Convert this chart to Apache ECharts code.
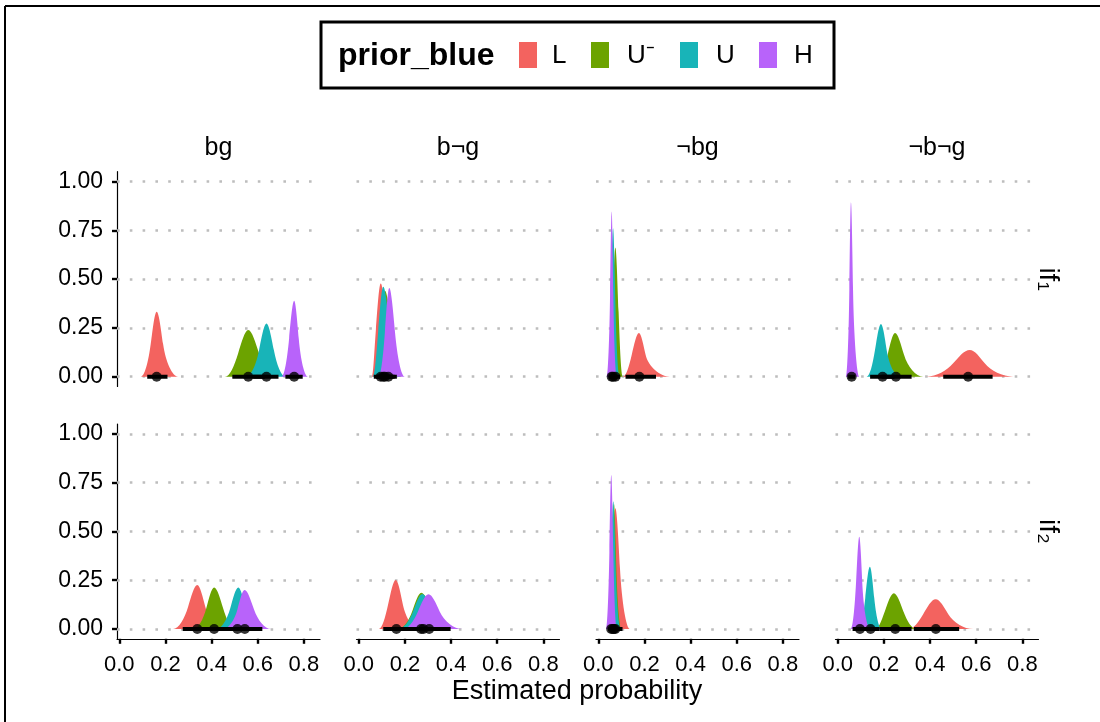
<!DOCTYPE html>
<html>
<head>
<meta charset="utf-8">
<script src="https://cdn.jsdelivr.net/npm/echarts@6.0.0/dist/echarts.min.js"></script>
<style>
html, body { margin: 0; padding: 0; background: #fff; }
#main { width: 1100px; height: 722px; }
</style>
</head>
<body>
<div id="main"></div>
<script>
var groups = ['L', 'U⁻', 'U', 'H'];
var colors = ['#F3635F', '#6CA300', '#18B4B8', '#B863FA'];
var colLabels = ['bg', 'b¬g', '¬bg', '¬b¬g'];
var rowLabels = ['if₁', 'if₂'];
var xTicks = [0, 0.2, 0.4, 0.6, 0.8];
var yTicks = [0, 0.25, 0.5, 0.75, 1];

// one row per panel: if1 (bg, b¬g, ¬bg, ¬b¬g), then if2; columns are L, U⁻, U, H
var peakX = [
	[0.162, 0.559, 0.638, 0.758],
	[0.095, 0.113, 0.106, 0.132],
	[0.176, 0.074, 0.064, 0.058],
	[0.572, 0.248, 0.187, 0.057],
	[0.338, 0.411, 0.516, 0.543],
	[0.160, 0.271, 0.275, 0.302],
	[0.074, 0.068, 0.065, 0.056],
	[0.424, 0.243, 0.139, 0.093]
];
var peakY = [
	[0.333, 0.239, 0.273, 0.389],
	[0.478, 0.440, 0.461, 0.454],
	[0.224, 0.662, 0.761, 0.846],
	[0.137, 0.224, 0.270, 0.893],
	[0.225, 0.213, 0.213, 0.200],
	[0.251, 0.186, 0.180, 0.178],
	[0.618, 0.640, 0.655, 0.789],
	[0.152, 0.183, 0.319, 0.473]
];
// x where the density is at half its peak, left and right
var halfLo = [
	[0.136, 0.515, 0.606, 0.736],
	[0.074, 0.092, 0.084, 0.113],
	[0.145, 0.061, 0.054, 0.051],
	[0.500, 0.216, 0.161, 0.050],
	[0.298, 0.377, 0.481, 0.512],
	[0.127, 0.232, 0.235, 0.256],
	[0.059, 0.057, 0.054, 0.048],
	[0.370, 0.204, 0.119, 0.079]
];
var halfHi = [
	[0.190, 0.606, 0.670, 0.778],
	[0.121, 0.145, 0.135, 0.157],
	[0.205, 0.088, 0.074, 0.065],
	[0.637, 0.287, 0.212, 0.066],
	[0.373, 0.450, 0.547, 0.584],
	[0.191, 0.317, 0.320, 0.351],
	[0.094, 0.078, 0.075, 0.065],
	[0.479, 0.284, 0.158, 0.106]
];
// visible ends of each density
var footLo = [
	[0.093, 0.458, 0.550, 0.703],
	[0.056, 0.065, 0.060, 0.085],
	[0.106, 0.045, 0.040, 0.036],
	[0.385, 0.170, 0.125, 0.035],
	[0.233, 0.320, 0.420, 0.450],
	[0.086, 0.170, 0.170, 0.190],
	[0.045, 0.040, 0.040, 0.033],
	[0.305, 0.161, 0.090, 0.056]
];
var footHi = [
	[0.255, 0.660, 0.720, 0.818],
	[0.170, 0.186, 0.180, 0.200],
	[0.310, 0.106, 0.092, 0.080],
	[0.760, 0.370, 0.270, 0.093],
	[0.440, 0.500, 0.600, 0.658],
	[0.260, 0.390, 0.400, 0.449],
	[0.137, 0.100, 0.097, 0.080],
	[0.587, 0.342, 0.190, 0.140]
];
var pointX = [
	[0.162, 0.559, 0.638, 0.758],
	[0.095, 0.113, 0.106, 0.128],
	[0.178, 0.074, 0.064, 0.058],
	[0.565, 0.252, 0.194, 0.060],
	[0.338, 0.411, 0.512, 0.544],
	[0.163, 0.270, 0.280, 0.305],
	[0.074, 0.068, 0.063, 0.056],
	[0.425, 0.249, 0.142, 0.096]
];
var intLo = [
	[0.121, 0.490, 0.580, 0.720],
	[0.065, 0.080, 0.075, 0.100],
	[0.118, 0.055, 0.050, 0.046],
	[0.457, 0.190, 0.140, 0.045],
	[0.275, 0.350, 0.455, 0.480],
	[0.106, 0.200, 0.205, 0.225],
	[0.055, 0.050, 0.048, 0.043],
	[0.330, 0.180, 0.105, 0.064]
];
var intHi = [
	[0.209, 0.630, 0.690, 0.795],
	[0.135, 0.155, 0.145, 0.165],
	[0.250, 0.095, 0.080, 0.072],
	[0.671, 0.320, 0.245, 0.075],
	[0.400, 0.475, 0.575, 0.620],
	[0.225, 0.350, 0.360, 0.398],
	[0.105, 0.088, 0.085, 0.070],
	[0.526, 0.320, 0.180, 0.125]
];

var FONT = '"Liberation Sans", Arial, sans-serif';
var chart = echarts.init(document.getElementById('main'));

var gridLeft = 117, gridStep = 239.5, gridW = 203, gridH = 214.8;
var rowTop = [171.7, 424];

// bell-shaped slab through foot, half-height and peak points
function renderDensity(params, api) {
	var g = api.value(0);
	var h = api.value(6);
	var fl = api.coord([api.value(1), 0]);
	var hl = api.coord([api.value(2), h / 2]);
	var pk = api.coord([api.value(3), h]);
	var hr = api.coord([api.value(4), h / 2]);
	var fr = api.coord([api.value(5), 0]);
	var dxL = pk[0] - hl[0], dyL = pk[1] - hl[1];
	var dxR = hr[0] - pk[0], dyR = hr[1] - pk[1];
	var d = [
		'M', fl[0], fl[1],
		'C', fl[0] + 0.375 * (hl[0] - fl[0]), fl[1], hl[0] - 0.4 * dxL, hl[1] - 0.554 * dyL, hl[0], hl[1],
		'C', hl[0] + dxL / 3, hl[1] + 0.462 * dyL, pk[0] - dxL / 3, pk[1], pk[0], pk[1],
		'C', pk[0] + dxR / 3, pk[1], hr[0] - dxR / 3, hr[1] - 0.462 * dyR, hr[0], hr[1],
		'C', hr[0] + 0.4 * dxR, hr[1] + 0.554 * dyR, fr[0] - 0.375 * (fr[0] - hr[0]), fr[1], fr[0], fr[1],
		'Z'
	].join(' ');
	return { type: 'path', shape: { pathData: d }, style: { fill: colors[g] } };
}

var grids = [], xAxes = [], yAxes = [], series = [];
for (var p = 0; p < 8; p++) {
	var row = Math.floor(p / 4), col = p % 4;
	grids.push({
		left: gridLeft + col * gridStep,
		top: rowTop[row],
		width: gridW,
		height: gridH,
		outerBoundsMode: 'none'
	});
	var bottomRow = row === 1;
	xAxes.push({
		type: 'value',
		gridIndex: p,
		min: -0.01,
		max: 0.87,
		axisLine: { show: bottomRow, onZero: false, lineStyle: { color: '#000', width: 1.2 } },
		axisTick: { show: bottomRow, customValues: xTicks, length: 5, lineStyle: { color: '#000', width: 2.4 } },
		axisLabel: {
			show: bottomRow,
			customValues: xTicks,
			margin: 15,
			color: '#000',
			fontSize: 22,
			fontFamily: FONT,
			formatter: function (v) { return v.toFixed(1); }
		},
		splitLine: { show: false }
	});
	var firstCol = col === 0;
	yAxes.push({
		type: 'value',
		gridIndex: p,
		min: -0.05,
		max: 1.05,
		axisLine: { show: firstCol, onZero: false, lineStyle: { color: '#000', width: 1.2 } },
		axisTick: { show: firstCol, customValues: yTicks, length: 5, lineStyle: { color: '#000', width: 2.4 } },
		axisLabel: {
			show: firstCol,
			customValues: yTicks,
			margin: 14,
			color: '#000',
			fontSize: 23,
			fontFamily: FONT,
			formatter: function (v) { return v.toFixed(2); }
		},
		splitLine: { show: false }
	});

	// dotted grid lines
	series.push({
		type: 'line',
		xAxisIndex: p,
		yAxisIndex: p,
		data: [],
		z: 1,
		markLine: {
			silent: true,
			z: 1,
			symbol: ['none', 'none'],
			label: { show: false },
			lineStyle: { color: '#bdbdbd', width: 2.6, type: [2.6, 10.2] },
			emphasis: { disabled: true },
			data: yTicks.map(function (v) { return { yAxis: v }; })
		}
	});

	// densities
	var items = [];
	for (var g = 0; g < 4; g++) {
		items.push([g, footLo[p][g], halfLo[p][g], peakX[p][g], halfHi[p][g], footHi[p][g], peakY[p][g]]);
	}
	series.push({
		type: 'custom',
		xAxisIndex: p,
		yAxisIndex: p,
		renderItem: renderDensity,
		encode: { x: [1, 2, 3, 4, 5], y: 6 },
		z: 2,
		data: items
	});

	// intervals
	for (var g2 = 0; g2 < 4; g2++) {
		series.push({
			type: 'line',
			xAxisIndex: p,
			yAxisIndex: p,
			symbol: 'none',
			lineStyle: { color: '#000', width: 4 },
			z: 3,
			data: [[intLo[p][g2], 0], [intHi[p][g2], 0]]
		});
	}
	// point estimates
	series.push({
		type: 'scatter',
		xAxisIndex: p,
		yAxisIndex: p,
		symbolSize: 10,
		itemStyle: { color: '#000' },
		z: 4,
		data: pointX[p].map(function (x) { return [x, 0]; })
	});
}

var graphic = [
	{ type: 'line', shape: { x1: 5, y1: 6, x2: 1100, y2: 6 }, style: { stroke: '#000', lineWidth: 2 } },
	{ type: 'line', shape: { x1: 5, y1: 6, x2: 5, y2: 722 }, style: { stroke: '#000', lineWidth: 2 } },
	{ type: 'rect', shape: { x: 321, y: 22, width: 513, height: 66 }, style: { fill: '#fff', stroke: '#000', lineWidth: 3 } },
	{ type: 'text', x: 338, y: 56, style: { text: 'prior_blue', font: 'bold 32px ' + FONT, fill: '#000', align: 'left', verticalAlign: 'middle' } },
	{ type: 'text', x: 577, y: 692, style: { text: 'Estimated probability', font: '27px ' + FONT, fill: '#000', align: 'center', verticalAlign: 'middle' } }
];
var swatchX = [519, 591, 680, 759];
var legendTextX = [552, 627, 716, 794];
for (var i = 0; i < 4; i++) {
	graphic.push({ type: 'rect', shape: { x: swatchX[i], y: 42, width: 18, height: 26 }, style: { fill: colors[i] } });
	graphic.push({ type: 'text', x: legendTextX[i], y: 56, style: { text: groups[i], font: '26px ' + FONT, fill: '#000', align: 'left', verticalAlign: 'middle' } });
}
for (var c = 0; c < 4; c++) {
	graphic.push({ type: 'text', x: gridLeft + c * gridStep + gridW / 2, y: 148, style: { text: colLabels[c], font: '25px ' + FONT, fill: '#000', align: 'center', verticalAlign: 'middle' } });
}
for (var r = 0; r < 2; r++) {
	graphic.push({ type: 'text', x: 1048, y: rowTop[r] + gridH / 2, rotation: -Math.PI / 2, style: { text: rowLabels[r], font: '28px ' + FONT, fill: '#000', align: 'center', verticalAlign: 'middle' } });
}

chart.setOption({
	animation: false,
	backgroundColor: '#fff',
	grid: grids,
	xAxis: xAxes,
	yAxis: yAxes,
	series: series,
	graphic: graphic
});
</script>
</body>
</html>
